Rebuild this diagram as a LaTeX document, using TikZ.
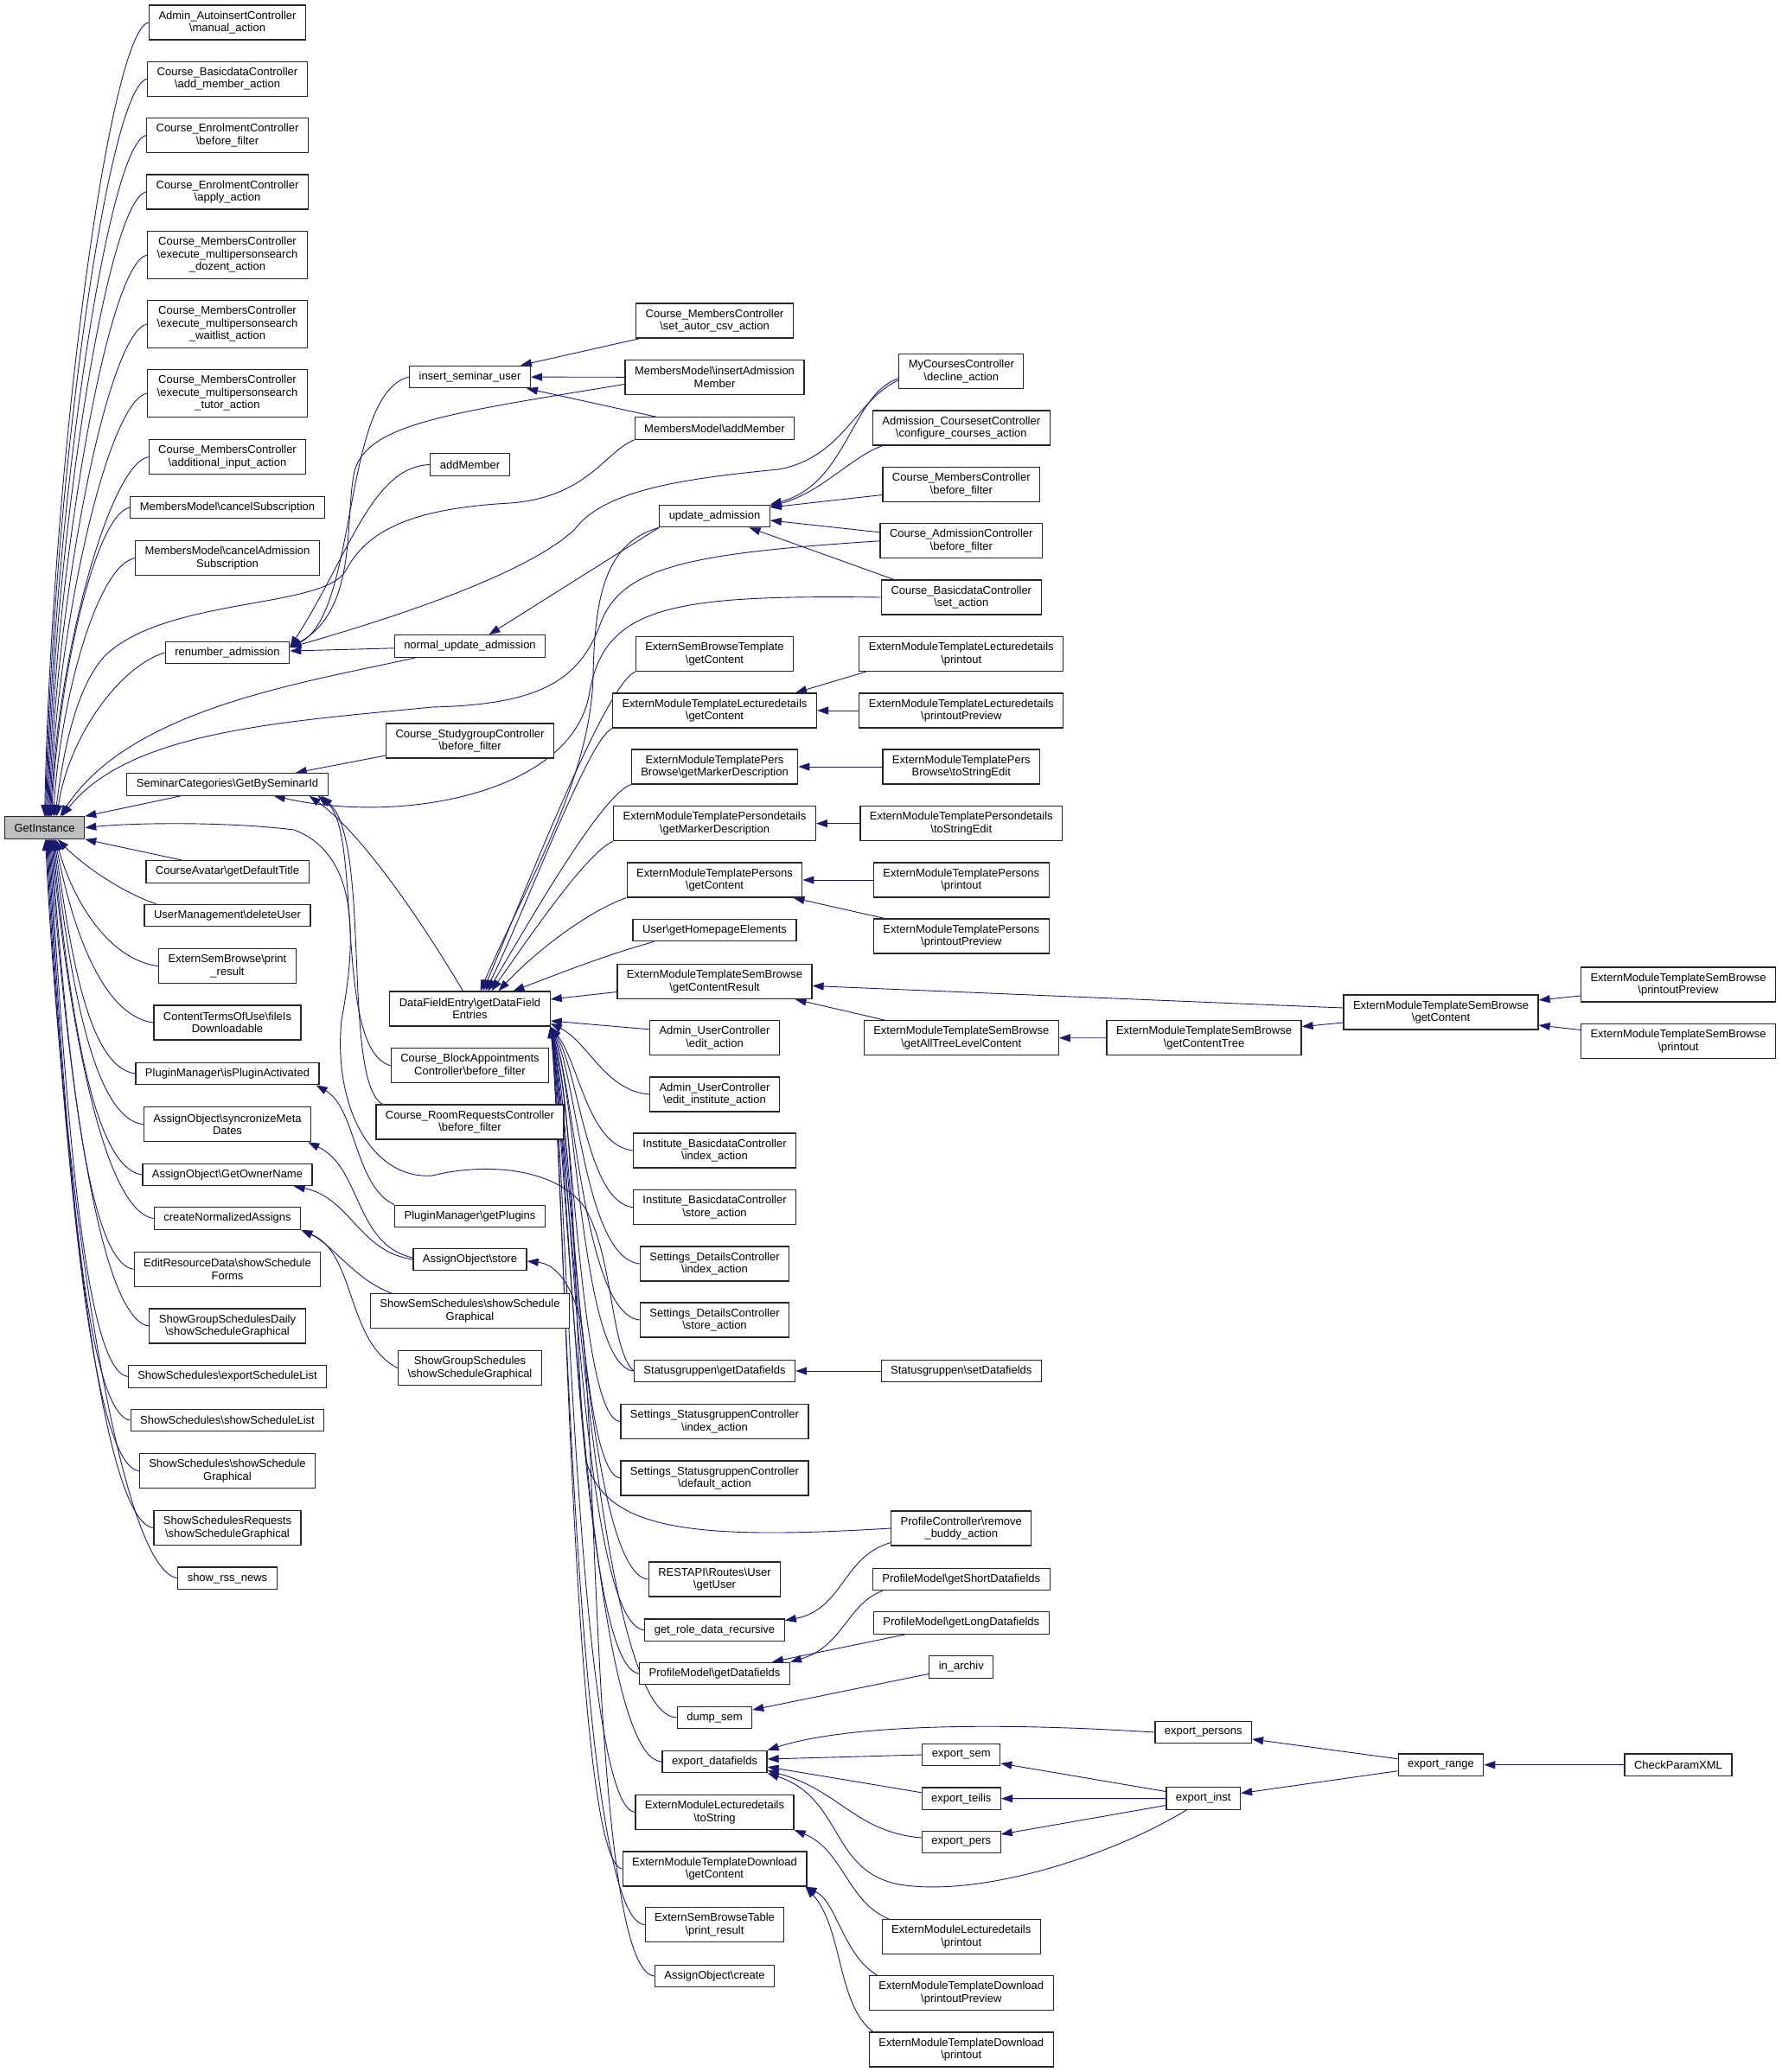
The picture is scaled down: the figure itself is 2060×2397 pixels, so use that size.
\documentclass[tikz,border=0pt]{standalone}
\usepackage{fontspec}
\setmainfont{Liberation Sans}
\usetikzlibrary{arrows.meta}
\usetikzlibrary{backgrounds}
\definecolor{edgeblue}{HTML}{191970}
\definecolor{rootgray}{HTML}{BFBFBF}
\newcommand{\nssep}{\textbackslash}

\begin{document}
\begin{tikzpicture}[x=1pt, y=-1pt,
  fn/.style={draw=black!85, line width=1.2pt, fill=white, align=center,
    inner xsep=11pt, inner ysep=2pt, minimum height=25.5pt,
    font=\fontsize{13}{14.5}\selectfont},
  fn2/.style={fn, minimum height=40pt},
  fn3/.style={fn, minimum height=55pt},
  call/.style={draw=edgeblue, line width=0.9pt, -{Triangle[length=13pt,width=9pt]}}]
	\useasboundingbox (0,0) rectangle (2060,2397);

	\begin{scope}[every node/.style={fn}]
		% the function itself
		\node (g) [fill=rootgray] at (51.6,957.6) {GetInstance};
		% direct callers
		\node (a1) [fn2] at (263,26) {Admin\_AutoinsertController\\\nssep manual\_action};
		\node (a2) [fn2] at (263,91.3) {Course\_BasicdataController\\\nssep add\_member\_action};
		\node (a3) [fn2] at (263,156.6) {Course\_EnrolmentController\\\nssep before\_filter};
		\node (a4) [fn2] at (263,222) {Course\_EnrolmentController\\\nssep apply\_action};
		\node (a5) [fn3] at (263,295) {Course\_MembersController\\\nssep execute\_multipersonsearch\\\_dozent\_action};
		\node (a6) [fn3] at (263,375) {Course\_MembersController\\\nssep execute\_multipersonsearch\\\_waitlist\_action};
		\node (a7) [fn3] at (263,455) {Course\_MembersController\\\nssep execute\_multipersonsearch\\\_tutor\_action};
		\node (a8) [fn2] at (263,528.6) {Course\_MembersController\\\nssep additional\_input\_action};
		\node (a9) at (263,587) {MembersModel\nssep cancelSubscription};
		\node (a10) [fn2] at (263,645.6) {MembersModel\nssep cancelAdmission\\Subscription};
		\node (ren) at (263,755) {renumber\_admission};
		\node (sem) at (263,907.4) {SeminarCategories\nssep GetBySeminarId};
		\node (ava) at (263,1008.4) {CourseAvatar\nssep getDefaultTitle};
		\node (umd) at (263,1059) {UserManagement\nssep deleteUser};
		\node (esp) [fn2] at (263,1117.6) {ExternSemBrowse\nssep print\\\_result};
		\node (ctu) [fn2] at (263,1183) {ContentTermsOfUse\nssep fileIs\\Downloadable};
		\node (pia) at (263,1242) {PluginManager\nssep isPluginActivated};
		\node (aos) [fn2] at (263,1300.8) {AssignObject\nssep syncronizeMeta\\Dates};
		\node (aon) at (263,1359) {AssignObject\nssep GetOwnerName};
		\node (cna) at (263,1409.5) {createNormalizedAssigns};
		\node (erd) [fn2] at (263,1468.4) {EditResourceData\nssep showSchedule\\Forms};
		\node (sgd) [fn2] at (263,1534) {ShowGroupSchedulesDaily\\\nssep showScheduleGraphical};
		\node (sel) at (263,1592.5) {ShowSchedules\nssep exportScheduleList};
		\node (ssl) at (263,1643) {ShowSchedules\nssep showScheduleList};
		\node (ssg) [fn2] at (263,1701.7) {ShowSchedules\nssep showSchedule\\Graphical};
		\node (ssr) [fn2] at (263,1767.5) {ShowSchedulesRequests\\\nssep showScheduleGraphical};
		\node (rss) at (263,1825.7) {show\_rss\_news};
		% second level
		\node (isu) at (543.5,436) {insert\_seminar\_user};
		\node (adm) at (543.5,537.5) {addMember};
		\node (nua) at (543.5,747.5) {normal\_update\_admission};
		\node (csg) [fn2] at (543.5,857) {Course\_StudygroupController\\\nssep before\_filter};
		\node (dfe) [fn2] at (543.5,1167) {DataFieldEntry\nssep getDataField\\Entries};
		\node (cba) [fn2] at (543.5,1232.7) {Course\_BlockAppointments\\Controller\nssep before\_filter};
		\node (crr) [fn2] at (543.5,1298) {Course\_RoomRequestsController\\\nssep before\_filter};
		\node (gpl) at (543.5,1407) {PluginManager\nssep getPlugins};
		\node (aost) at (543.5,1457) {AssignObject\nssep store};
		\node (sss) [fn2] at (543.5,1516.7) {ShowSemSchedules\nssep showSchedule\\Graphical};
		\node (sgs) [fn2] at (543.5,1582.7) {ShowGroupSchedules\\\nssep showScheduleGraphical};
		% third level
		\node (sac) [fn2] at (826.5,371) {Course\_MembersController\\\nssep set\_autor\_csv\_action};
		\node (iam) [fn2] at (826.5,436.5) {MembersModel\nssep insertAdmission\\Member};
		\node (mam) at (826.5,495.5) {MembersModel\nssep addMember};
		\node (upd) at (826.5,597) {update\_admission};
		\node (esbt) [fn2] at (826.5,756.6) {ExternSemBrowseTemplate\\\nssep getContent};
		\node (eld) [fn2] at (826.5,822) {ExternModuleTemplateLecturedetails\\\nssep getContent};
		\node (epb) [fn2] at (826.5,887) {ExternModuleTemplatePers\\Browse\nssep getMarkerDescription};
		\node (epd) [fn2] at (826.5,952.7) {ExternModuleTemplatePersondetails\\\nssep getMarkerDescription};
		\node (eps) [fn2] at (826.5,1018) {ExternModuleTemplatePersons\\\nssep getContent};
		\node (uhe) at (826.5,1076) {User\nssep getHomepageElements};
		\node (ecr) [fn2] at (826.5,1135.5) {ExternModuleTemplateSemBrowse\\\nssep getContentResult};
		\node (aue) [fn2] at (826.5,1200.8) {Admin\_UserController\\\nssep edit\_action};
		\node (aui) [fn2] at (826.5,1266) {Admin\_UserController\\\nssep edit\_institute\_action};
		\node (ibi) [fn2] at (826.5,1331) {Institute\_BasicdataController\\\nssep index\_action};
		\node (ibs) [fn2] at (826.5,1396.7) {Institute\_BasicdataController\\\nssep store\_action};
		\node (sdi) [fn2] at (826.5,1462) {Settings\_DetailsController\\\nssep index\_action};
		\node (sds) [fn2] at (826.5,1527) {Settings\_DetailsController\\\nssep store\_action};
		\node (sgg) at (826.5,1586) {Statusgruppen\nssep getDatafields};
		\node (ssi) [fn2] at (826.5,1644.7) {Settings\_StatusgruppenController\\\nssep index\_action};
		\node (ssd) [fn2] at (826.5,1710) {Settings\_StatusgruppenController\\\nssep default\_action};
		\node (rau) [fn2] at (826.5,1827) {RESTAPI\nssep Routes\nssep User\\\nssep getUser};
		\node (grd) at (826.5,1885.7) {get\_role\_data\_recursive};
		\node (pgd) at (826.5,1936) {ProfileModel\nssep getDatafields};
		\node (dsm) at (826.5,1987) {dump\_sem};
		\node (edf) at (826.5,2038) {export\_datafields};
		\node (elt) [fn2] at (826.5,2096.4) {ExternModuleLecturedetails\\\nssep toString};
		\node (etd) [fn2] at (826.5,2162) {ExternModuleTemplateDownload\\\nssep getContent};
		\node (ebt) [fn2] at (826.5,2226.7) {ExternSemBrowseTable\\\nssep print\_result};
		\node (aoc) at (826.5,2286) {AssignObject\nssep create};
		% fourth level
		\node (mcd) [fn2] at (1111.8,429.8) {MyCoursesController\\\nssep decline\_action};
		\node (acc) [fn2] at (1111.8,495) {Admission\_CoursesetController\\\nssep configure\_courses\_action};
		\node (cmb) [fn2] at (1111.8,560.5) {Course\_MembersController\\\nssep before\_filter};
		\node (cab) [fn2] at (1111.8,625.8) {Course\_AdmissionController\\\nssep before\_filter};
		\node (cbs) [fn2] at (1111.8,691) {Course\_BasicdataController\\\nssep set\_action};
		\node (elp) [fn2] at (1111.8,756.6) {ExternModuleTemplateLecturedetails\\\nssep printout};
		\node (elv) [fn2] at (1111.8,822) {ExternModuleTemplateLecturedetails\\\nssep printoutPreview};
		\node (ebs) [fn2] at (1111.8,887) {ExternModuleTemplatePers\\Browse\nssep toStringEdit};
		\node (eds) [fn2] at (1111.8,952.7) {ExternModuleTemplatePersondetails\\\nssep toStringEdit};
		\node (epp) [fn2] at (1111.8,1018) {ExternModuleTemplatePersons\\\nssep printout};
		\node (epv) [fn2] at (1111.8,1083) {ExternModuleTemplatePersons\\\nssep printoutPreview};
		\node (eat) [fn2] at (1111.8,1200.8) {ExternModuleTemplateSemBrowse\\\nssep getAllTreeLevelContent};
		\node (sgset) at (1111.8,1586) {Statusgruppen\nssep setDatafields};
		\node (pcr) [fn2] at (1111.8,1768) {ProfileController\nssep remove\\\_buddy\_action};
		\node (psd) at (1111.8,1827) {ProfileModel\nssep getShortDatafields};
		\node (pld) at (1111.8,1877.5) {ProfileModel\nssep getLongDatafields};
		\node (iar) at (1111.8,1928.4) {in\_archiv};
		\node (exs) at (1111.8,2030) {export\_sem};
		\node (ext) at (1111.8,2080.7) {export\_teilis};
		\node (exp) at (1111.8,2131) {export\_pers};
		\node (elpr) [fn2] at (1111.8,2240.4) {ExternModuleLecturedetails\\\nssep printout};
		\node (edv) [fn2] at (1111.8,2305.8) {ExternModuleTemplateDownload\\\nssep printoutPreview};
		\node (edp) [fn2] at (1111.8,2371) {ExternModuleTemplateDownload\\\nssep printout};
		% further levels
		\node (ect) [fn2] at (1392.5,1200.7) {ExternModuleTemplateSemBrowse\\\nssep getContentTree};
		\node (exps) at (1391.7,2004) {export\_persons};
		\node (exi) at (1391.7,2080.5) {export\_inst};
		\node (esc) [fn2] at (1666.5,1171) {ExternModuleTemplateSemBrowse\\\nssep getContent};
		\node (exr) at (1666.5,2041.7) {export\_range};
		\node (esv) [fn2] at (1941,1139) {ExternModuleTemplateSemBrowse\\\nssep printoutPreview};
		\node (esr) [fn2] at (1941,1204.5) {ExternModuleTemplateSemBrowse\\\nssep printout};
		\node (cpx) at (1941,2041.7) {CheckParamXML};
	\end{scope}

	\begin{scope}[on background layer, every edge/.style={call}]
		% callers above GetInstance
		\draw[call] (a1.west) .. controls (127,34) and (60,531) .. (g.north);
		\draw[call] (a2.west) .. controls (125,99) and (61,560) .. ([xshift=1pt]g.north);
		\draw[call] (a3.west) .. controls (125,165) and (62,590) .. ([xshift=2pt]g.north);
		\draw[call] (a4.west) .. controls (125,230) and (63,619) .. ([xshift=3pt]g.north);
		\draw[call] (a5.west) .. controls (125,303) and (64,652) .. ([xshift=4pt]g.north);
		\draw[call] (a6.west) .. controls (125,383) and (65,688) .. ([xshift=5pt]g.north);
		\draw[call] (a7.west) .. controls (125,463) and (66,724) .. ([xshift=6pt]g.north);
		\draw[call] (a8.west) .. controls (127,537) and (67,757) .. ([xshift=7pt]g.north);
		\draw[call] (a9.west) .. controls (110,595) and (68,783) .. ([xshift=8pt]g.north);
		\draw[call] (a10.west) .. controls (112,654) and (70,810) .. ([xshift=10pt]g.north);
		\draw[call] (ren.west) .. controls (140,770) and (80,850) .. ([xshift=14pt]g.north);
		\path ([xshift=63pt]sem.south west) edge (g.north east);
		% callers below GetInstance
		\path ([xshift=42pt]ava.north west) edge (g.south east);
		\draw[call] ([xshift=14pt]umd.north west) .. controls (140,1032) and (95,1000) .. ([xshift=15pt]g.south);
		\draw[call] (esp.west) .. controls (123,1110) and (83,1037) .. ([xshift=13pt]g.south);
		\draw[call] (ctu.west) .. controls (116,1175) and (82,1066) .. ([xshift=12pt]g.south);
		\draw[call] (pia.west) .. controls (100,1234) and (81,1093) .. ([xshift=11pt]g.south);
		\draw[call] (aos.west) .. controls (105,1293) and (80,1120) .. ([xshift=10pt]g.south);
		\draw[call] (aon.west) .. controls (104,1351) and (79,1146) .. ([xshift=9pt]g.south);
		\draw[call] (cna.west) .. controls (118,1401) and (78,1168) .. ([xshift=8pt]g.south);
		\draw[call] (erd.west) .. controls (98,1460) and (77,1195) .. ([xshift=7pt]g.south);
		\draw[call] (sgd.west) .. controls (113,1526) and (76,1224) .. ([xshift=6pt]g.south);
		\draw[call] (sel.west) .. controls (95,1585) and (75,1251) .. ([xshift=5pt]g.south);
		\draw[call] (ssl.west) .. controls (95,1635) and (74,1273) .. ([xshift=4pt]g.south);
		\draw[call] (ssg.west) .. controls (102,1694) and (73,1300) .. ([xshift=3pt]g.south);
		\draw[call] (ssr.west) .. controls (115,1760) and (72,1330) .. ([xshift=2pt]g.south);
		\draw[call] (rss.west) .. controls (135,1815) and (71,1356) .. ([xshift=1pt]g.south);
		% long calls into GetInstance
		\draw[call] ([xshift=25pt]nua.south west) .. controls (350,790) and (150,820) .. ([xshift=18pt]g.north);
		\draw[call] (mam.south west) .. controls (700,522) and (680,575) .. (590,582)
			.. controls (480,588) and (425,612) .. (400,660)
			.. controls (375,705) and (190,690) .. (120,760)
			.. controls (85,800) and (72,880) .. ([xshift=12pt]g.north);
		\draw[call] (cab.west) .. controls (800,640) and (720,655) .. (695,720)
			.. controls (670,790) and (620,815) .. (500,818)
			.. controls (330,835) and (150,845) .. ([xshift=20pt]g.north);
		\draw[call] (sgg.west) .. controls (705,1560) and (710,1450) .. (675,1395)
			.. controls (640,1350) and (560,1345) .. (500,1360)
			.. controls (430,1365) and (385,1280) .. (395,1180)
			.. controls (410,1100) and (420,990) .. (340,960)
			.. controls (260,950) and (150,952) .. (g.east);

		% renumber_admission and insert_seminar_user
		\draw[call] (isu.west) .. controls (395,455) and (415,710) .. ([yshift=6pt]ren.east);
		\draw[call] ([yshift=-8pt]iam.west) .. controls (520,478) and (425,490) .. (410,545)
			.. controls (398,600) and (415,705) .. ([yshift=6pt]ren.east);
		\draw[call] (adm.west) .. controls (430,540) and (405,640) .. ([yshift=6pt]ren.east);
		\draw[call] ([yshift=-10pt]mcd.west) .. controls (990,462) and (975,530) .. (900,543)
			.. controls (800,553) and (700,565) .. (665,612)
			.. controls (620,655) and (500,702) .. ([yshift=6pt]ren.east);
		\path (nua) edge (ren);
		\path ([xshift=5pt]sac.south west) edge ([xshift=-12pt]isu.north east);
		\path (iam) edge (isu);
		\path ([xshift=25pt]mam.north west) edge ([xshift=-5pt]isu.south east);

		% update_admission
		\path (upd.south west) edge ([xshift=22pt]nua.north);
		\draw[call] ([yshift=-8pt]mcd.west) .. controls (985,455) and (980,560) .. (upd.north east);
		\draw[call] ([xshift=12pt]acc.south west) .. controls (985,528) and (950,570) .. ([yshift=-2pt]upd.north east);
		\path ([yshift=-12pt]cmb.west) edge ([yshift=10pt]upd.east);
		\path ([yshift=10pt]cab.west) edge ([yshift=-5pt]upd.east);
		\path ([xshift=15pt]cbs.north west) edge ([xshift=40pt]upd.south);

		% SeminarCategories
		\path ([yshift=-17pt]csg.west) edge ([xshift=-38pt]sem.north east);
		\draw[call] ([xshift=-8pt]dfe.north) .. controls (490,1070) and (420,965) .. ([xshift=-22pt]sem.south east);
		\draw[call] (cba.west) .. controls (385,1215) and (420,960) .. ([xshift=-12pt]sem.south east);
		\draw[call] ([xshift=8pt]crr.north west) .. controls (395,1250) and (430,975) .. ([xshift=-8pt]sem.south east);
		\draw[call] (cbs.west) .. controls (780,688) and (700,700) .. (682,800)
			.. controls (665,915) and (470,955) .. ([xshift=-63pt]sem.south east);

		% plugins, assign objects and schedules
		\draw[call] (gpl.north west) .. controls (410,1372) and (412,1282) .. ([xshift=-4pt]pia.south east);
		\draw[call] ([yshift=2pt]aost.west) .. controls (410,1440) and (418,1350) .. ([xshift=-4pt]aos.south east);
		\draw[call] (aost.west) .. controls (415,1448) and (405,1385) .. ([xshift=-22pt]aon.south east);
		\draw[call] ([xshift=25pt]sss.north west) .. controls (410,1480) and (385,1440) .. (cna.south east);
		\draw[call] (sgs.west) .. controls (400,1552) and (412,1450) .. (cna.south east);
		\draw[call] (aoc.west) .. controls (685,2280) and (690,1620) .. (672,1530)
			.. controls (660,1480) and (640,1462) .. ([yshift=-2pt]aost.east);

		% DataFieldEntry from above
		\draw[call] (upd.south west) .. controls (700,628) and (688,690) .. (686,780)
			.. controls (684,900) and (610,1020) .. ([xshift=12pt]dfe.north);
		\draw[call] (esbt.south west) .. controls (700,790) and (600,1050) .. ([xshift=15pt]dfe.north);
		\draw[call] (eld.south west) .. controls (680,855) and (605,1060) .. ([xshift=18pt]dfe.north);
		\draw[call] (epb.south west) .. controls (695,920) and (610,1070) .. ([xshift=21pt]dfe.north);
		\draw[call] (epd.south west) .. controls (680,985) and (615,1080) .. ([xshift=25pt]dfe.north);
		\draw[call] (eps.south west) .. controls (690,1050) and (630,1090) .. ([xshift=33pt]dfe.north);
		\draw[call] ([xshift=25pt]uhe.south west) .. controls (700,1105) and (650,1125) .. ([xshift=50pt]dfe.north);
		\path ([yshift=-12pt]ecr.west) edge ([yshift=11pt]dfe.east);
		\path ([yshift=10pt]aue.west) edge ([yshift=-14pt]dfe.east);
		% DataFieldEntry from below
		\draw[call] (aui.west) .. controls (700,1262) and (680,1205) .. ([yshift=-17pt]dfe.east);
		\draw[call] (ibi.west) .. controls (680,1325) and (670,1230) .. (dfe.south east);
		\draw[call] (ibs.west) .. controls (678,1390) and (670,1240) .. (dfe.south east);
		\draw[call] (sdi.west) .. controls (676,1455) and (668,1250) .. (dfe.south east);
		\draw[call] (sds.west) .. controls (675,1520) and (665,1260) .. (dfe.south east);
		\draw[call] (sgg.west) .. controls (672,1580) and (668,1270) .. (dfe.south east);
		\draw[call] (ssi.west) .. controls (670,1640) and (664,1280) .. (dfe.south east);
		\draw[call] (ssd.west) .. controls (668,1705) and (662,1290) .. (dfe.south east);
		\draw[call] (pcr.west) .. controls (800,1782) and (700,1770) .. (678,1690)
			.. controls (662,1550) and (668,1300) .. (dfe.south east);
		\draw[call] (rau.west) .. controls (675,1820) and (660,1300) .. (dfe.south east);
		\draw[call] (grd.west) .. controls (672,1880) and (660,1310) .. (dfe.south east);
		\draw[call] (pgd.west) .. controls (670,1930) and (658,1320) .. (dfe.south east);
		\draw[call] (dsm.west) .. controls (690,1985) and (657,1330) .. (dfe.south east);
		\draw[call] (edf.west) .. controls (680,2035) and (656,1340) .. (dfe.south east);
		\draw[call] (elt.west) .. controls (668,2090) and (655,1350) .. (dfe.south east);
		\draw[call] (etd.west) .. controls (662,2155) and (654,1360) .. (dfe.south east);
		\draw[call] (ebt.west) .. controls (665,2220) and (653,1370) .. (dfe.south east);

		% extern module templates
		\path ([xshift=8pt]elp.south west) edge ([xshift=-25pt]eld.north east);
		\path (elv) edge (eld);
		\path (ebs) edge (epb);
		\path (eds) edge (epd);
		\path (epp) edge (eps);
		\path ([xshift=13pt]epv.north west) edge ([xshift=-11pt]eps.south east);
		\path ([yshift=5pt]esc.west) edge ([yshift=-5pt]ecr.east);
		\path ([xshift=25pt]eat.north west) edge ([xshift=-20pt]ecr.south east);
		\path (ect) edge (eat);
		\path ([yshift=-12pt]esc.west) edge ([yshift=13pt]ect.east);
		\path ([yshift=-13pt]esv.west) edge ([yshift=14pt]esc.east);
		\path ([yshift=13pt]esr.west) edge ([yshift=-15pt]esc.east);
		\draw[call] ([xshift=8pt]elpr.north west) .. controls (980,2200) and (975,2140) .. (elt.south east);
		\draw[call] ([xshift=10pt]edv.north west) .. controls (975,2262) and (968,2200) .. ([xshift=-2pt]etd.south east);
		\draw[call] ([xshift=5pt]edp.north west) .. controls (968,2320) and (975,2230) .. ([xshift=-2pt]etd.south east);

		% profiles and statusgruppen
		\path (sgset) edge (sgg);
		\draw[call] ([yshift=4pt]pcr.south west) .. controls (975,1800) and (975,1862) .. ([yshift=11pt]grd.east);
		\draw[call] ([xshift=12pt]psd.south west) .. controls (980,1855) and (975,1905) .. (pgd.north east);
		\path ([xshift=37pt]pld.south west) edge ([xshift=-21pt]pgd.north east);
		\path ([yshift=-8pt]iar.west) edge ([yshift=9pt]dsm.east);

		% exports
		\draw[call] (exps.west) .. controls (1150,1992) and (980,1995) .. (edf.north east);
		\path (exs.west) edge ([yshift=3pt]edf.east);
		\path ([yshift=7pt]ext.west) edge ([yshift=-6pt]edf.east);
		\draw[call] ([yshift=5pt]exp.west) .. controls (990,2120) and (970,2070) .. ([yshift=3pt]edf.south east);
		\draw[call] ([xshift=24pt]exi.south west) .. controls (1280,2150) and (1130,2195) .. (1040,2180)
			.. controls (960,2165) and (975,2080) .. (edf.south east);
		\path ([yshift=8pt]exi.west) edge ([yshift=-10pt]exs.east);
		\path (exi) edge (ext);
		\path ([yshift=-8pt]exi.west) edge ([yshift=9pt]exp.east);
		\path ([yshift=7pt]exr.west) edge ([yshift=-8pt]exps.east);
		\path ([yshift=-7pt]exr.west) edge ([yshift=6pt]exi.east);
		\path (cpx) edge (exr);
	\end{scope}
\end{tikzpicture}
\end{document}
